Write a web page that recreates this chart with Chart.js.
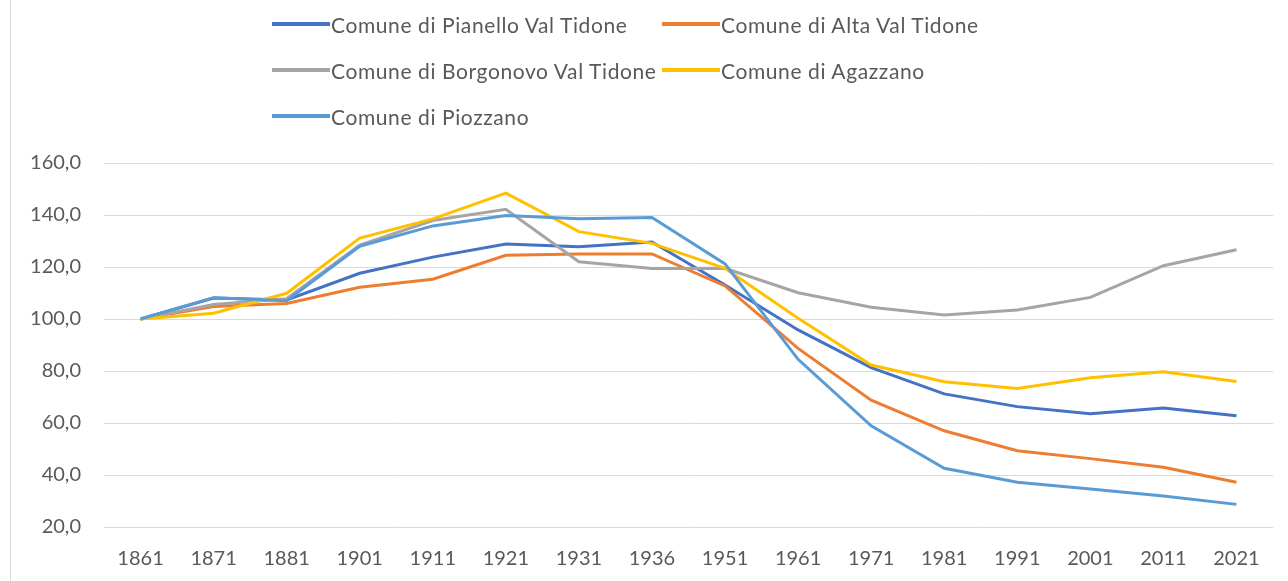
<!DOCTYPE html>
<html>
<head>
<meta charset="utf-8">
<script src="https://cdn.jsdelivr.net/npm/chart.js@4.4.1/dist/chart.umd.min.js"></script>
<style>
  html, body { margin: 0; padding: 0; background: #fff; }
  .wrap { position: relative; width: 1288px; height: 581px; overflow: hidden; font-family: Lato, "Open Sans", sans-serif; }
  .frame { position: absolute; left: 10px; top: 0; width: 1px; height: 581px; background: #d9d9d9; }
  canvas { position: absolute; left: 0; top: 0; }
  .legends { position: absolute; left: 272px; top: 10px; width: 800px; }
  .legend { position: absolute; display: flex; align-items: center; height: 28px; white-space: nowrap; }
  .legend span { display: inline-block; width: 58px; height: 4px; margin-right: 1px; }
  .legend p { margin: 0; font-size: 21px; letter-spacing: 0.6px; color: #595959; }
</style>
</head>
<body>
<div class="wrap">
  <div class="frame"></div>
  <canvas id="myChart" width="1288" height="581"></canvas>
  <div class="legends"></div>
</div>
<script>
const years = ["1861", "1871", "1881", "1901", "1911", "1921", "1931", "1936",
  "1951", "1961", "1971", "1981", "1991", "2001", "2011", "2021"];

const names = [
  "Comune di Pianello Val Tidone",
  "Comune di Alta Val Tidone",
  "Comune di Borgonovo Val Tidone",
  "Comune di Agazzano",
  "Comune di Piozzano",
];

const pianello = [100, 108.1, 107.3, 117.6, 123.8, 128.8, 127.8, 129.6, 113.1, 95.8, 81.3, 71.2, 66.3, 63.6, 65.8, 62.8];
const altaVal = [100, 104.8, 106, 112.2, 115.3, 124.5, 125, 125, 112.7, 88.7, 68.8, 57, 49.3, 46.3, 43, 37.2];
const borgonovo = [100, 105.6, 107.8, 128.4, 137.9, 142.2, 122, 119.4, 119.5, 110.1, 104.5, 101.5, 103.5, 108.3, 120.5, 126.6];
const agazzano = [100, 102.2, 109.9, 131.1, 138.5, 148.4, 133.6, 129.1, 119.5, 100.3, 82.3, 75.9, 73.3, 77.4, 79.7, 76];
const piozzano = [100, 108.2, 107, 128, 135.8, 139.8, 138.6, 139, 121.2, 84.5, 58.9, 42.6, 37.2, 34.6, 31.9, 28.7];

const yTicks = [20, 40, 60, 80, 100, 120, 140, 160];

const colors = ["#4472C4", "#ED7D31", "#A5A5A5", "#FFC000", "#5B9BD5"];
const series = [pianello, altaVal, borgonovo, agazzano, piozzano];

// later series sit on top, like the original
const datasets = series.map((values, i) => ({
  label: names[i],
  data: values,
  borderColor: colors[i],
  backgroundColor: colors[i],
  borderWidth: 3,
  pointRadius: 0,
  tension: 0,
  order: series.length - 1 - i,
}));

const ctx = document.getElementById("myChart");
new Chart(ctx, {
  type: "line",
  data: { labels: years, datasets: datasets },
  options: {
    responsive: false,
    animation: false,
    layout: { padding: { top: 163, right: 15, left: 0, bottom: 0 } },
    plugins: {
      legend: { display: false },
      tooltip: { enabled: false },
    },
    scales: {
      x: {
        offset: true,
        grid: { display: false, drawTicks: false },
        border: { display: false },
        ticks: {
          color: "#595959",
          font: { family: "Lato", size: 20 },
          padding: 20,
          maxRotation: 0,
        },
        afterFit: (scale) => { scale.height = 54; },
      },
      y: {
        min: 20,
        max: 160,
        afterBuildTicks: (scale) => { scale.ticks = yTicks.map((v) => ({ value: v })); },
        grid: { color: "#d9d9d9", lineWidth: 1, drawTicks: false },
        border: { display: false },
        ticks: {
          color: "#595959",
          font: { family: "Lato", size: 20 },
          padding: 23,
          callback: (v) => v.toFixed(1).replace(".", ","),
        },
        afterFit: (scale) => { scale.width = 104; },
      },
    },
  },
});

let legends = document.querySelector(".legends");
for (let i = 0; i < names.length; i++) {
  const col = i % 2;
  const row = Math.floor(i / 2);
  legends.innerHTML += `<div class="legend" style="left:${col * 390}px;top:${row * 46}px">
  <span style="background-color:${colors[i]};"></span>
  <p>${names[i]}</p>
</div>`;
}
</script>
</body>
</html>
